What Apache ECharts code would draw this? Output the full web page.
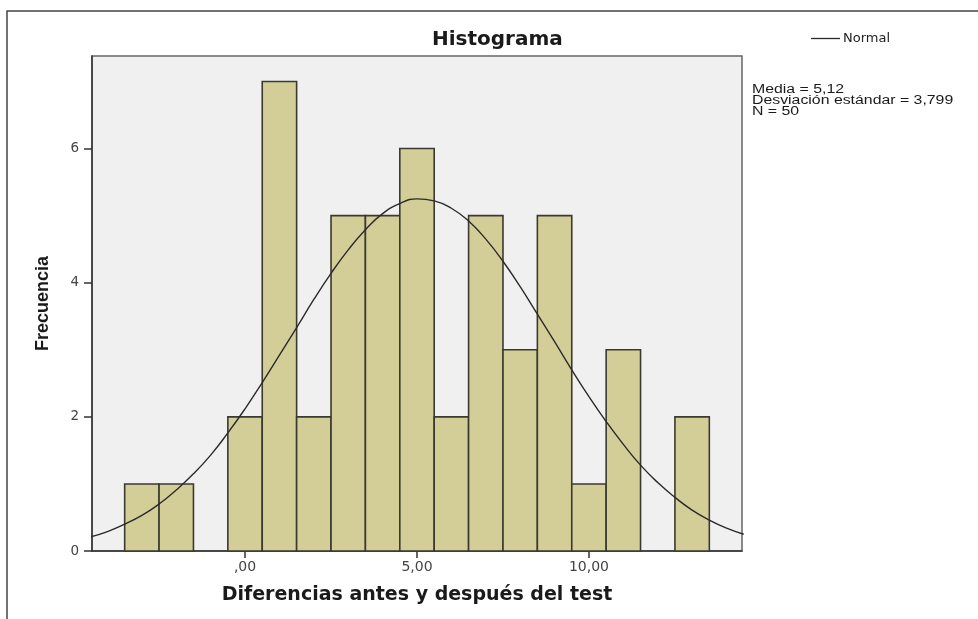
<!DOCTYPE html>
<html>
<head>
<meta charset="utf-8">
<script src="https://cdn.jsdelivr.net/npm/echarts@6/dist/echarts.min.js"></script>
<style>
html,body{margin:0;padding:0;background:#fff;}
#chart{width:978px;height:619px;}
</style>
</head>
<body>
<div id="chart"></div>
<script>
// ---- data ----
const binCenters = [-3, -2, -1, 0, 1, 2, 3, 4, 5, 6, 7, 8, 9, 10, 11, 12, 13];
const binCounts  = [ 1,  1,  0, 2, 7, 2, 5, 5, 6, 2, 5, 3, 5,  1,  3,  0,  2];
const binWidth = 1;
const curveX = [-4.5,-4,-3.5,-3,-2.5,-2,-1.5,-1,-0.5,0,0.5,1,1.5,2,2.5,3,3.5,4,4.5,5,5.5,6,6.5,7,7.5,8,8.5,9,9.5,10,10.5,11,11.5,12,12.5,13,13.5,14,14.5];
const curveY = [0.21,0.29,0.40,0.53,0.70,0.91,1.15,1.43,1.76,2.12,2.51,2.92,3.33,3.75,4.14,4.49,4.79,5.03,5.18,5.25,5.22,5.11,4.92,4.65,4.32,3.94,3.53,3.12,2.70,2.30,1.93,1.59,1.28,1.02,0.80,0.61,0.46,0.34,0.25];
const xTickValues = [0, 5, 10];
const xTickLabels = [',00', '5,00', '10,00'];
const yTickValues = [0, 2, 4, 6];
const yTickLabels = ['0', '2', '4', '6'];
const statsLines = ['Media = 5,12', 'Desviación estándar = 3,799', 'N = 50'];

const barData = binCenters.map((c, i) => [c - binWidth / 2, c + binWidth / 2, binCounts[i]]).filter(d => d[2] > 0);
const curveData = curveX.map((x, i) => [x, curveY[i]]);

const chart = echarts.init(document.getElementById('chart'), null, {renderer: 'canvas'});
chart.setOption({
  animation: false,
  backgroundColor: '#ffffff',
  title: {
    text: 'Histograma',
    left: 432, top: 30, padding: 0,
    textStyle: {fontFamily: 'DejaVu Sans', fontWeight: 'bold', fontSize: 20, color: '#1a1a1a'}
  },
  legend: {
    data: ['Normal'],
    icon: 'rect',
    left: 811, top: 32, padding: 0,
    itemWidth: 29, itemHeight: 1.3, itemGap: 4,
    textStyle: {fontFamily: 'DejaVu Sans', fontSize: 13, color: '#222', padding: [0, 0, 0, -2]}
  },
  grid: {
    left: 92, top: 56, width: 650, height: 495,
    show: true, backgroundColor: '#f0f0f0', borderColor: '#666', borderWidth: 1.5
  },
  xAxis: {
    type: 'value', min: -4.45, max: 14.45,
    name: 'Diferencias antes y después del test',
    nameLocation: 'middle', nameGap: 35,
    nameTextStyle: {fontFamily: 'DejaVu Sans', fontWeight: 'bold', fontSize: 19, color: '#1a1a1a'},
    axisLine: {show: true, onZero: false, lineStyle: {color: '#333', width: 1.5}},
    axisTick: {show: true, length: 7, customValues: xTickValues, lineStyle: {color: '#333', width: 1.5}},
    axisLabel: {
      customValues: xTickValues, margin: 9,
      fontFamily: 'DejaVu Sans', fontSize: 14, color: '#444',
      formatter: v => xTickLabels[xTickValues.indexOf(v)]
    },
    splitLine: {show: false}
  },
  yAxis: {
    type: 'value', min: 0, max: 7.38,
    name: 'Frecuencia',
    nameLocation: 'middle', nameGap: 40,
    nameTextStyle: {fontFamily: 'Liberation Sans', fontWeight: 'bold', fontSize: 18, color: '#1a1a1a'},
    axisLine: {show: true, onZero: false, lineStyle: {color: '#333', width: 1.5}},
    axisTick: {show: true, length: 8, customValues: yTickValues, lineStyle: {color: '#333', width: 1.5}},
    axisLabel: {
      customValues: yTickValues, margin: 13,
      fontFamily: 'DejaVu Sans', fontSize: 13.5, color: '#444',
      formatter: v => yTickLabels[yTickValues.indexOf(v)]
    },
    splitLine: {show: false}
  },
  series: [
    {
      type: 'custom',
      name: 'Frecuencia',
      data: barData,
      encode: {x: [0, 1], y: 2},
      renderItem: function (params, api) {
        const p0 = api.coord([api.value(0), api.value(2)]);
        const p1 = api.coord([api.value(1), 0]);
        return {
          type: 'rect',
          shape: {x: p0[0], y: p0[1], width: p1[0] - p0[0], height: p1[1] - p0[1]},
          style: {fill: '#d3ce97', stroke: '#3a3a30', lineWidth: 1.6}
        };
      },
      z: 2
    },
    {
      type: 'line',
      name: 'Normal',
      data: curveData,
      smooth: true,
      symbol: 'none',
      clip: true,
      lineStyle: {color: '#2a2a2a', width: 1.4},
      itemStyle: {color: '#2a2a2a'},
      z: 3
    }
  ],
  graphic: [
    {
      type: 'rect', z: -10, silent: true,
      shape: {x: 7, y: 11, width: 1200, height: 900},
      style: {fill: 'none', stroke: '#444', lineWidth: 1.5}
    },
    {
      type: 'text', x: 752, y: 84, scaleX: 1.32,
      style: {
        text: statsLines.join('\n'),
        font: '12px "Liberation Sans", Arial, sans-serif',
        lineHeight: 11, fill: '#1a1a1a'
      }
    }
  ]
});
</script>
</body>
</html>
